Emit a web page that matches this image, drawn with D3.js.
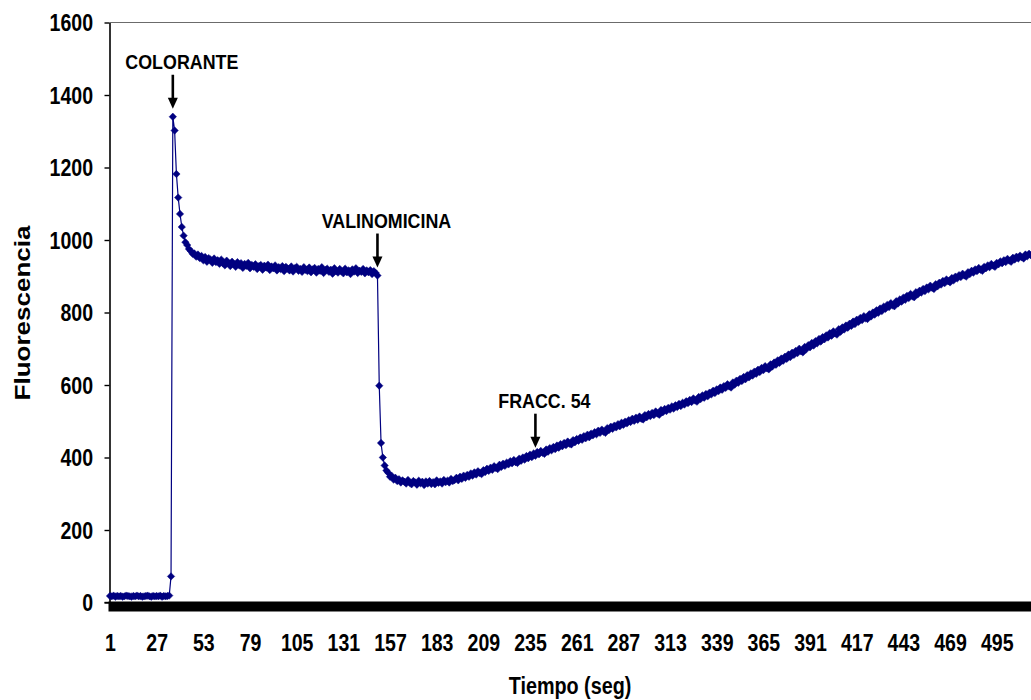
<!DOCTYPE html>
<html>
<head>
<meta charset="utf-8">
<script src="https://cdn.jsdelivr.net/npm/d3@7"></script>
<style>
  html, body { margin: 0; padding: 0; background: #fff; overflow: hidden; }
  text { font-family: "Liberation Sans", Arial, sans-serif; font-weight: bold; fill: #000; }
</style>
</head>
<body>
<svg id="chart" width="1031" height="700"></svg>
<script>
// Fluorescence reading, one value per second (1..514)
const fluorescence = [
  18,17,19,16,18,17,18,16,17,19,18,17,16,18,17,19,17,18,16,17,18,19,17,16,18,17,18,17,19,16,18,17,18,19,
  72,1340,1302,1182,1117,1072,1036,
  1012,994,986,975,970,962,963,954,960,950,
  956,944,953,940,950,946,937,949,939,944,
  934,946,936,930,943,937,928,940,933,926,
  939,930,936,923,934,929,937,922,931,926,
  933,920,928,931,918,929,924,932,917,927,
  922,930,916,925,920,928,914,926,921,916,
  927,913,922,926,915,920,912,925,918,914,
  924,911,919,923,910,920,915,925,909,917,
  921,912,918,907,922,914,910,920,913,908,
  921,911,916,906,919,913,922,909,915,912,
  920,908,916,911,917,906,914,909,902,
  598,440,400,378,364,358,347,349,339,344,
  335,340,331,337,333,328,338,330,326,335,
  331,325,336,329,333,324,334,328,335,327,
  332,326,337,330,334,328,338,332,336,331,
  341,335,338,344,337,347,341,350,344,352,
  347,356,350,359,353,362,357,354,365,360,
  369,363,372,366,376,371,368,380,374,383,
  377,386,381,390,384,393,387,385,397,391,
  400,394,404,398,408,401,411,405,415,409,
  418,413,410,422,416,426,420,429,423,433,
  427,437,431,440,434,444,438,436,448,442,
  451,446,455,449,459,453,463,456,466,461,
  470,464,474,468,477,471,468,481,476,485,
  479,488,483,492,486,496,490,499,494,503,
  498,507,501,510,504,513,507,505,517,511,
  520,514,523,517,527,521,518,531,525,534,
  528,537,532,541,535,544,539,548,542,551,
  546,555,550,559,553,563,557,554,567,561,
  571,565,575,569,579,574,584,578,588,583,
  593,587,597,592,602,596,593,607,601,612,
  606,617,611,622,616,627,621,632,626,637,
  631,642,636,647,641,652,646,643,657,651,
  662,656,668,661,673,667,678,672,684,677,
  689,683,694,688,700,693,690,705,699,710,
  704,716,709,721,715,727,720,732,726,737,
  731,743,736,748,742,739,754,747,759,753,
  764,758,769,763,775,768,780,774,785,779,
  790,784,782,795,789,800,794,806,799,811,
  804,816,810,821,815,826,820,817,831,825,
  836,830,841,835,846,840,851,845,842,856,
  850,860,855,865,859,869,864,874,868,865,
  878,872,882,877,887,881,891,886,883,895,
  889,899,894,903,898,907,902,899,911,906,
  915,910,919,914,923,918,915,926,922,930,
  925,934,929,926,937,933,941,936,944,939,
  948,943,940,951,946,954,949,957,952,949,
  960,955,962,958
];

// Time in seconds for each reading
const seconds = d3.range(1, fluorescence.length + 1);

// Category labels shown on the time axis
const xTickLabels = [1, 27, 53, 79, 105, 131, 157, 183, 209, 235, 261, 287, 313, 339, 365, 391, 417, 443, 469, 495];

// Fluorescence axis ticks
const yTickValues = [0, 200, 400, 600, 800, 1000, 1200, 1400, 1600];

// Event markers: label and the second at which it was added
const eventLabels = ["COLORANTE", "VALINOMICINA", "FRACC. 54"];
const eventSeconds = [36, 150, 238];

(function draw() {
  const svg = d3.select("#chart");
  const W = 1031;
  const plotLeft = 109.5, plotTop = 22.5, plotBottom = 602.5;
  const step = 1.795; // px per second

  const x = d3.scalePoint()
    .domain(seconds)
    .range([plotLeft + 0.5, plotLeft + 0.5 + step * (seconds.length - 1)]);

  const y = d3.scaleLinear().domain([0, 1600]).range([plotBottom, plotTop]);

  const NAVY = "#000080";
  const NARROW = 0.85;

  // Plot-area top border
  svg.append("line")
    .attr("x1", plotLeft).attr("x2", W)
    .attr("y1", plotTop).attr("y2", plotTop)
    .attr("stroke", "#6b6b6b").attr("stroke-width", 1);

  // Y axis
  const yAxis = svg.append("g")
    .attr("transform", `translate(${plotLeft},0)`)
    .call(d3.axisLeft(y).tickValues(yTickValues).tickFormat(d3.format("d")).tickSize(5).tickSizeOuter(0));
  yAxis.select(".domain").attr("stroke", "#000").attr("stroke-width", 1.6);
  yAxis.selectAll(".tick line").attr("stroke", "#000").attr("stroke-width", 1.4);
  yAxis.selectAll(".tick text")
    .attr("x", -16.5 / NARROW)
    .attr("dy", "0.36em")
    .attr("transform", `scale(${NARROW},1)`)
    .style("font-size", "23px")
    .style("font-family", "'Liberation Sans', Arial, sans-serif")
    .style("font-weight", "bold");

  // Data line
  const line = d3.line()
    .x((d, i) => x(seconds[i]))
    .y(d => y(d));

  svg.append("path")
    .datum(fluorescence)
    .attr("fill", "none")
    .attr("stroke", NAVY)
    .attr("stroke-width", 1.2)
    .attr("d", line);

  // Diamond markers
  const r = 3.7;
  svg.append("g")
    .selectAll("path")
    .data(fluorescence)
    .join("path")
    .attr("d", `M0,${-r}L${r},0L0,${r}L${-r},0Z`)
    .attr("transform", (d, i) => `translate(${x(seconds[i])},${y(d)})`)
    .attr("fill", NAVY)
    .attr("stroke", NAVY)
    .attr("stroke-width", 0.5);

  // X axis (heavy baseline)
  const xAxis = svg.append("g")
    .attr("transform", `translate(0,${plotBottom + 4})`)
    .call(d3.axisBottom(x).tickValues(xTickLabels).tickSize(0).tickSizeOuter(0).tickPadding(0));
  xAxis.select(".domain")
    .attr("d", `M${plotLeft - 1},0H${W}`)
    .attr("stroke", "#000").attr("stroke-width", 10);
  xAxis.selectAll(".tick text")
    .attr("y", 45)
    .attr("dy", 0)
    .attr("transform", `scale(${NARROW},1)`)
    .style("font-size", "23px")
    .style("font-family", "'Liberation Sans', Arial, sans-serif")
    .style("font-weight", "bold");

  // Zero tick on the left of the baseline
  svg.append("line")
    .attr("x1", plotLeft - 5).attr("x2", plotLeft)
    .attr("y1", plotBottom).attr("y2", plotBottom)
    .attr("stroke", "#000").attr("stroke-width", 1.4);

  // Event arrows and labels
  const arrowLen = 34, gap = 8;
  eventLabels.forEach((label, k) => {
    const s = eventSeconds[k];
    const ax = x(s);
    const tipY = y(fluorescence[s - 1]) - gap;
    const startY = tipY - arrowLen;
    const g = svg.append("g");
    g.append("line")
      .attr("x1", ax).attr("x2", ax)
      .attr("y1", startY).attr("y2", tipY - 10)
      .attr("stroke", "#000").attr("stroke-width", 2.6);
    g.append("path")
      .attr("d", `M${ax - 5},${tipY - 11}L${ax + 5},${tipY - 11}L${ax},${tipY}Z`)
      .attr("fill", "#000");
    g.append("text")
      .attr("transform", `translate(${ax + 9},${startY - 6}) scale(${NARROW},1)`)
      .attr("text-anchor", "middle")
      .style("font-size", "21px")
      .text(label);
  });

  // Axis titles
  svg.append("text")
    .attr("transform", `translate(570,694) scale(0.86,1)`)
    .attr("text-anchor", "middle")
    .style("font-size", "23px")
    .text("Tiempo (seg)");

  svg.append("text")
    .attr("transform", `translate(22,313) rotate(-90) scale(1,0.87)`)
    .attr("text-anchor", "middle")
    .attr("dominant-baseline", "central")
    .style("font-size", "26px")
    .text("Fluorescencia");
})();
</script>
</body>
</html>
